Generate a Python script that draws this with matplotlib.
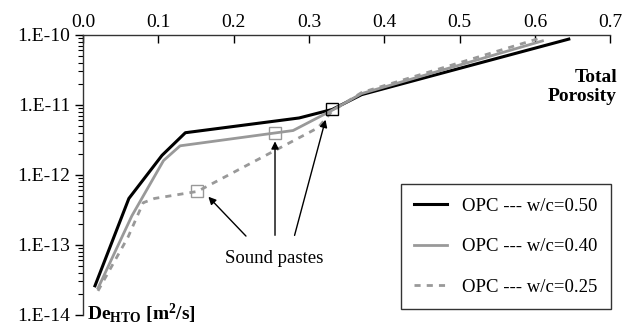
import numpy as np
import matplotlib
matplotlib.use("Agg")
import matplotlib.pyplot as plt
from matplotlib.ticker import FixedLocator, FuncFormatter, LogLocator, NullFormatter

plt.rcParams['font.family'] = ['Liberation Serif', 'DejaVu Serif']
plt.rcParams['mathtext.fontset'] = 'custom'
plt.rcParams['mathtext.rm'] = 'Liberation Serif'
plt.rcParams['mathtext.bf'] = 'Liberation Serif:bold'

# porosity / effective diffusivity
por_050 = [0.016, 0.061, 0.105, 0.136, 0.287, 0.331, 0.37, 0.645]
de_050 = [2.6e-14, 4.6e-13, 1.9e-12, 4.0e-12, 6.5e-12, 8.6e-12, 1.4e-11, 8.7e-11]

por_040 = [0.020, 0.065, 0.107, 0.129, 0.279, 0.331, 0.37, 0.61]
de_040 = [2.4e-14, 2.6e-13, 1.6e-12, 2.6e-12, 4.3e-12, 8.4e-12, 1.45e-11, 8.2e-11]

por_025 = [0.020, 0.060, 0.080, 0.095, 0.152, 0.312, 0.331, 0.37, 0.61]
de_025 = [2.2e-14, 1.3e-13, 4.0e-13, 4.6e-13, 5.8e-13, 4.7e-12, 8.2e-12, 1.5e-11, 9.2e-11]

# sound paste markers
sound_x = [0.152, 0.255, 0.331]
sound_y = [5.8e-13, 4.0e-12, 8.6e-12]
sound_col = ['#999999', '#999999', 'black']

xticks = [0.0, 0.1, 0.2, 0.3, 0.4, 0.5, 0.6, 0.7]
yticks = [1e-14, 1e-13, 1e-12, 1e-11, 1e-10]
labels = ['OPC --- w/c=0.50', 'OPC --- w/c=0.40', 'OPC --- w/c=0.25']

fig = plt.figure(figsize=(6.33, 3.29), dpi=100)
ax = fig.add_axes([0.131, 0.043, 0.833, 0.851])

ax.plot(por_050, de_050, color='black', lw=2.2, label=labels[0])
ax.plot(por_040, de_040, color='#999999', lw=2.0, label=labels[1])
ax.plot(por_025, de_025, color='#999999', lw=2.0, ls=(0, (2.2, 2.2)), label=labels[2])

for x, y, c in zip(sound_x, sound_y, sound_col):
    ax.plot(x, y, marker='s', ms=9, mfc='none', mec=c, mew=1.0, ls='none')

ax.set_yscale('log')
ax.set_xlim(0, 0.7)
ax.set_ylim(1e-14, 1e-10)

ax.xaxis.tick_top()
ax.xaxis.set_major_locator(FixedLocator(xticks))
ax.xaxis.set_major_formatter(FuncFormatter(lambda v, p: f"{v:.1f}"))
ax.tick_params(axis='x', direction='in', length=6, width=1, labelsize=14, pad=3)

ax.yaxis.set_major_locator(FixedLocator(yticks))
ax.yaxis.set_major_formatter(FuncFormatter(lambda v, p: f"1.E{int(round(np.log10(v)))}"))
ax.yaxis.set_minor_locator(LogLocator(base=10, subs=np.arange(2, 10)))
ax.yaxis.set_minor_formatter(NullFormatter())
ax.tick_params(axis='y', which='major', direction='out', length=6, width=1, labelsize=14, pad=3)
ax.tick_params(axis='y', which='minor', direction='out', length=3.5, width=0.8)

for s in ['bottom', 'right']:
    ax.spines[s].set_visible(False)
for s in ['top', 'left']:
    ax.spines[s].set_linewidth(1.0)
    ax.spines[s].set_color('#333333')

# annotations
ax.text(0.2545, 6.3e-14, 'Sound pastes', fontsize=13.5, ha='center', va='center')
arr = dict(arrowstyle='-|>', color='black', lw=1.0, mutation_scale=11)
ax.annotate('', xy=(0.164, 5.2e-13), xytext=(0.219, 1.25e-13), arrowprops=arr)
ax.annotate('', xy=(0.255, 3.3e-12), xytext=(0.255, 1.25e-13), arrowprops=arr)
ax.annotate('', xy=(0.323, 6.7e-12), xytext=(0.280, 1.25e-13), arrowprops=arr)

ax.text(0.709, 1.0e-11, 'Total\nPorosity', fontsize=14, fontweight='bold',
        ha='right', va='bottom', linespacing=1.15, clip_on=False)
fig.text(0.138, 0.008, r'$\mathbf{De_{HTO}}$ $\mathbf{[m^2/s]}$', fontsize=14,
         ha='left', va='bottom')

leg = fig.legend(loc='upper left', bbox_to_anchor=(0.618, 0.468), fontsize=13.5,
                 frameon=True, fancybox=False, edgecolor='#333333', framealpha=1,
                 borderpad=0.7, labelspacing=1.25, handlelength=1.8, handletextpad=0.8)
leg.get_frame().set_linewidth(1.0)

fig.savefig('out.png', dpi=100)
